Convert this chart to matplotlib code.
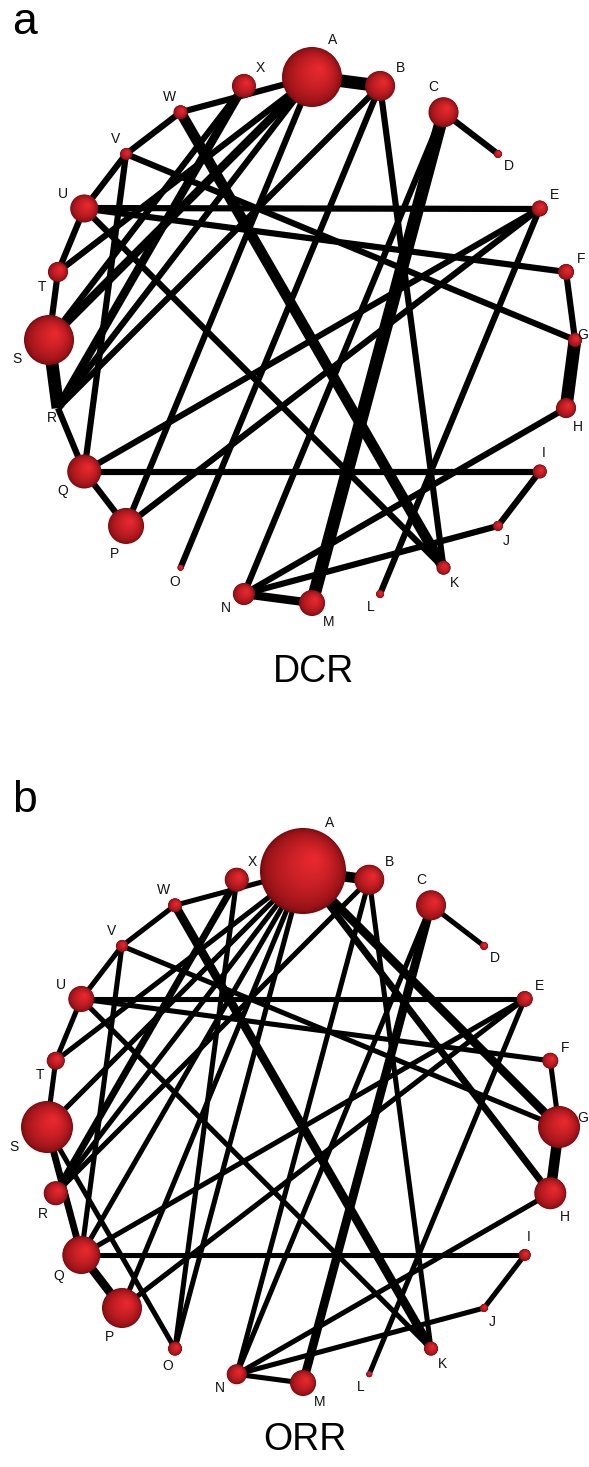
import numpy as np
import matplotlib
matplotlib.use("Agg")
import matplotlib.pyplot as plt
from matplotlib.patches import Circle

# ---------------- data ----------------
nodes = list("ABCDEFGHIJKLMNOPQRSTUVWX")

# node size (relative, ~ number of patients); panel a = DCR, panel b = ORR
dcr_size = [900, 225, 225, 16, 64, 64, 49, 100, 49, 25, 49, 16,
            169, 121, 9, 324, 289, 0, 625, 100, 196, 36, 49, 144]
orr_size = [1850, 225, 225, 16, 64, 64, 441, 256, 36, 16, 49, 9,
            169, 100, 49, 400, 361, 144, 676, 81, 169, 36, 49, 144]

# edges: (node, node, number of studies)
dcr_edges = [
    ("A", "B", 4), ("A", "W", 1), ("A", "S", 2), ("A", "P", 1), ("A", "T", 1),
    ("A", "R", 1), ("X", "R", 2), ("X", "S", 1), ("B", "R", 1), ("B", "O", 1),
    ("B", "K", 1), ("C", "M", 4), ("C", "N", 1), ("C", "D", 1), ("E", "U", 1),
    ("E", "Q", 1), ("E", "P", 1), ("E", "L", 1), ("F", "U", 1), ("F", "G", 1),
    ("G", "V", 1), ("G", "H", 4), ("H", "N", 1), ("I", "Q", 1), ("I", "J", 1),
    ("J", "N", 1), ("K", "W", 3), ("K", "U", 1), ("M", "N", 2), ("P", "Q", 1),
    ("Q", "R", 1), ("Q", "V", 1), ("R", "S", 4), ("S", "T", 1), ("T", "U", 1),
    ("U", "V", 1), ("V", "W", 1),
]
orr_edges = [
    ("A", "B", 4), ("A", "W", 1), ("A", "S", 1), ("A", "T", 1), ("A", "R", 1),
    ("A", "Q", 1), ("A", "P", 1), ("A", "O", 1), ("A", "G", 3), ("A", "H", 2),
    ("X", "R", 2), ("X", "O", 1), ("B", "R", 1), ("B", "N", 1), ("B", "K", 1),
    ("C", "M", 3), ("C", "N", 1), ("C", "D", 1), ("E", "U", 1), ("E", "Q", 1),
    ("E", "P", 1), ("E", "L", 1), ("F", "U", 1), ("F", "G", 1), ("G", "V", 1),
    ("G", "H", 4), ("H", "N", 1), ("I", "Q", 1), ("I", "J", 1), ("J", "N", 1),
    ("K", "W", 3), ("K", "U", 1), ("M", "N", 1), ("P", "Q", 3), ("Q", "V", 1),
    ("Q", "S", 2), ("O", "S", 1), ("S", "T", 1), ("T", "U", 1), ("U", "V", 1),
    ("V", "W", 1),
]
panel_letters = ["a", "b"]
panel_titles = ["DCR", "ORR"]

# ---------------- layout / style ----------------
W, H = 589, 1467
fig = plt.figure(figsize=(W / 100, H / 100), dpi=100)
ax = fig.add_axes([0, 0, 1, 1])
ax.set_xlim(0, W)
ax.set_ylim(H, 0)
ax.axis("off")

PX = 72 / 100  # points per pixel

# label direction (degrees, screen: 0 = right, 90 = up)
label_dir = [61, 42, 112, -47, 41, 40, 15, -58, 78, -60, -53, -125,
             -48, -142, -112, -113, -138, -122, -149, -137, 145, 126, 127, 48]

panels = [
    dict(cx=312, cy=340, R=263, size=dcr_size, edges=dcr_edges, wscale=1.0,
         letter_xy=(12, 22), title_y=672),
    dict(cx=303, cy=1127, R=256, size=orr_size, edges=orr_edges, wscale=0.82,
         letter_xy=(12, 800), title_y=1440),
]

bright = np.array([236, 42, 48]) / 255
dark = np.array([120, 10, 14]) / 255


def sphere(x, y, r, z):
    n = 30
    for i in range(n):
        t = i / n
        rr = r * (1 - t)
        off = 0.38 * r * t
        cx, cy = x + off * 0.75, y - off * 0.75
        c = dark + (bright - dark) * (t ** 0.55)
        ax.add_patch(Circle((cx, cy), rr, color=c, lw=0, zorder=z))


for p_i, p in enumerate(panels):
    n = len(nodes)
    ang = np.deg2rad(90 - 360 / n * np.arange(n))
    xs = p["cx"] + p["R"] * np.cos(ang)
    ys = p["cy"] - p["R"] * np.sin(ang)
    pos = {nm: (xs[i], ys[i]) for i, nm in enumerate(nodes)}
    for a, b, w in p["edges"]:
        (x1, y1), (x2, y2) = pos[a], pos[b]
        lw_px = (4 + 2.2 * w) * p["wscale"]
        ax.plot([x1, x2], [y1, y2], color="black", lw=lw_px * PX,
                solid_capstyle="butt", zorder=2)
    for i, nm in enumerate(nodes):
        r = np.sqrt(p["size"][i])
        if r > 0:
            sphere(xs[i], ys[i], r, 3)
        d = np.deg2rad(label_dir[i])
        dist = r + 12
        lx = xs[i] + dist * np.cos(d)
        ly = ys[i] - dist * np.sin(d)
        ha = "center"
        if lx > W - 6:  # keep the label inside the figure
            lx, ha = W - 1, "right"
        ax.text(lx, ly, nm, fontsize=10, family="Liberation Sans",
                ha=ha, va="center", color="#111111", zorder=4)
    lx, ly = p["letter_xy"]
    ax.text(lx, ly, panel_letters[p_i], fontsize=32, family="Liberation Sans",
            ha="left", va="center", color="black")
    ax.text(p["cx"] + 2, p["title_y"], panel_titles[p_i], fontsize=27,
            family="Liberation Sans", ha="center", va="center", color="black")

fig.savefig("out.png", dpi=100, facecolor="white")
